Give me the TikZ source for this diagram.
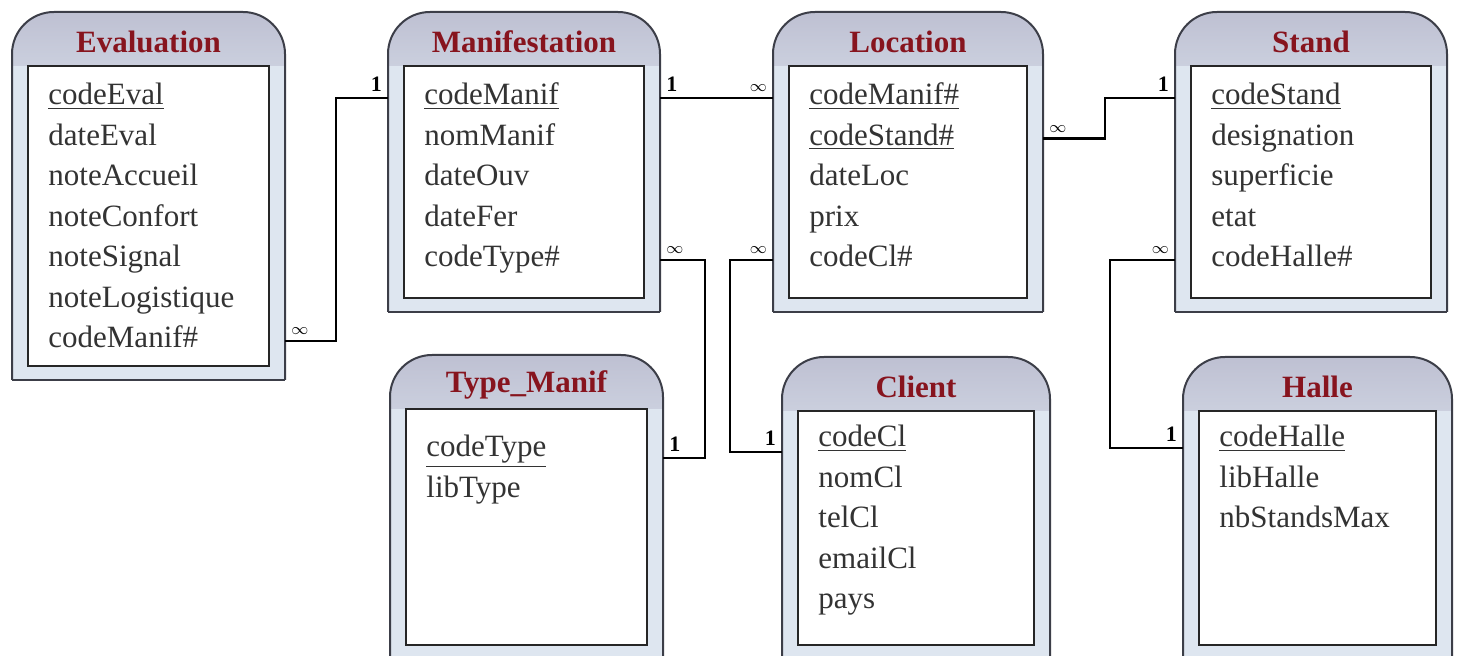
\documentclass[tikz,border=0pt]{standalone}
\usepackage{fontspec}
\setmainfont{Liberation Serif}
\usepackage{xcolor}
\usepackage{tikz}
\usetikzlibrary{calc}
\usetikzlibrary{positioning}

\definecolor{hdgray}{RGB}{190,192,210}
\definecolor{sideblue}{RGB}{222,230,240}
\definecolor{framegray}{RGB}{60,62,72}
\definecolor{titlered}{RGB}{135,20,30}

\tikzset{
  tbl/.style={inner sep=0pt, outer sep=0pt},
  tblframe/.style={draw=framegray, line width=1pt, rounded corners=21pt},
  inbox/.style={draw=black!85, line width=1.1pt, fill=white},
  tbltitle/.style={font=\bfseries\fontsize{15.5}{18}\selectfont, text=titlered},
  attr/.style={font=\fontsize{15.5}{18}\selectfont, text=black!80, anchor=west, inner sep=0pt,
    text height=11pt, text depth=4pt},
  link/.style={draw=black, line width=1.25pt},
  card/.style={font=\bfseries\fontsize{11}{12}\selectfont, inner sep=2.5pt},
}

% table: name, left, top, right, bottom, title, first row, rows
\newcommand\dbtable[8]{%
  \node[tbl, minimum width={(#4-#2)*0.5pt}, minimum height={(#5-#3)*0.5pt}, anchor=north west] (#1) at (#2,#3) {};
  \path[fill=sideblue, rounded corners=21pt] (#1.south west) -- (#1.north west) -- (#1.north east) -- (#1.south east);
  \path[top color=hdgray, bottom color=hdgray!60!sideblue, rounded corners=21pt]
    ($(#1.north west)+(0,54)$) -- (#1.north west) -- (#1.north east) -- ($(#1.north east)+(0,54)$);
  \draw[tblframe] (#1.south west) -- (#1.north west) -- (#1.north east) -- (#1.south east);
  \draw[framegray, line width=1pt] (#1.south west) -- (#1.south east);
  \draw[inbox] ($(#1.north west)+(16,54)$) rectangle ($(#1.south east)+(-16,-14)$);
  \node[tbltitle] (#1-title) at ($(#1.north)+(0,30)$) {#6};
  \foreach \f [count=\i] in {#8} {
    \pgfmathsetmacro\yy{#7+40.5*(\i-1)}
    \node[attr] (#1-\i) at ($(#1.north west)+(36,\yy)$) {\f};
  }
}

\begin{document}
\begin{tikzpicture}[x=0.5pt, y=-0.5pt]
  \useasboundingbox (0,0) rectangle (1457,656);
  \clip (0,0) rectangle (1457,656);

  \dbtable{evaluation}{12}{12}{285}{380}{Evaluation}{86}{\underline{codeEval}, dateEval, noteAccueil, noteConfort, noteSignal, noteLogistique, codeManif\#}
  \dbtable{manif}{388}{12}{660}{312}{Manifestation}{86}{\underline{codeManif}, nomManif, dateOuv, dateFer, codeType\#}
  \dbtable{location}{773}{12}{1043}{312}{Location}{86}{\underline{codeManif\#}, \underline{codeStand\#}, dateLoc, prix, codeCl\#}
  \dbtable{stand}{1175}{12}{1447}{312}{Stand}{86}{\underline{codeStand}, designation, superficie, etat, codeHalle\#}
  \dbtable{typemanif}{390}{355}{663}{659}{Type\_Manif}{95}{\underline{codeType}, libType}
  \dbtable{client}{782}{357}{1050}{659}{Client}{83}{\underline{codeCl}, nomCl, telCl, emailCl, pays}
  \dbtable{halle}{1183}{357}{1452}{659}{Halle}{83}{\underline{codeHalle}, libHalle, nbStandsMax}

  % links
  \draw[link] (evaluation.east |- evaluation-7) node[card, above right] {$\scriptstyle\infty$}
    -- ++(51,0) |- (manif.west |- manif-1) node[card, above left] {1};
  \draw[link] (manif.east |- manif-1) node[card, above right] {1}
    -- (location.west |- location-1) node[card, above left] {$\scriptstyle\infty$};
  \draw[link] (manif.east |- manif-5) node[card, above right] {$\scriptstyle\infty$}
    -- ++(45,0) |- ($(typemanif.east |- typemanif-1)+(0,8)$) node[card, above right] {1};
  \draw[link] (location.west |- location-5) node[card, above left] {$\scriptstyle\infty$}
    -- ++(-43,0) |- ($(client.west |- client-1)+(0,12)$) node[card, above left] {1};
  \draw[link] (location.east |- location-2) node[card, above right] {$\scriptstyle\infty$}
    -- ++(62,0) |- (stand.west |- stand-1) node[card, above left] {1};
  \draw[link] (stand.west |- stand-5) node[card, above left] {$\scriptstyle\infty$}
    -- ++(-65,0) |- ($(halle.west |- halle-1)+(0,8)$) node[card, above left] {1};
\end{tikzpicture}
\end{document}
